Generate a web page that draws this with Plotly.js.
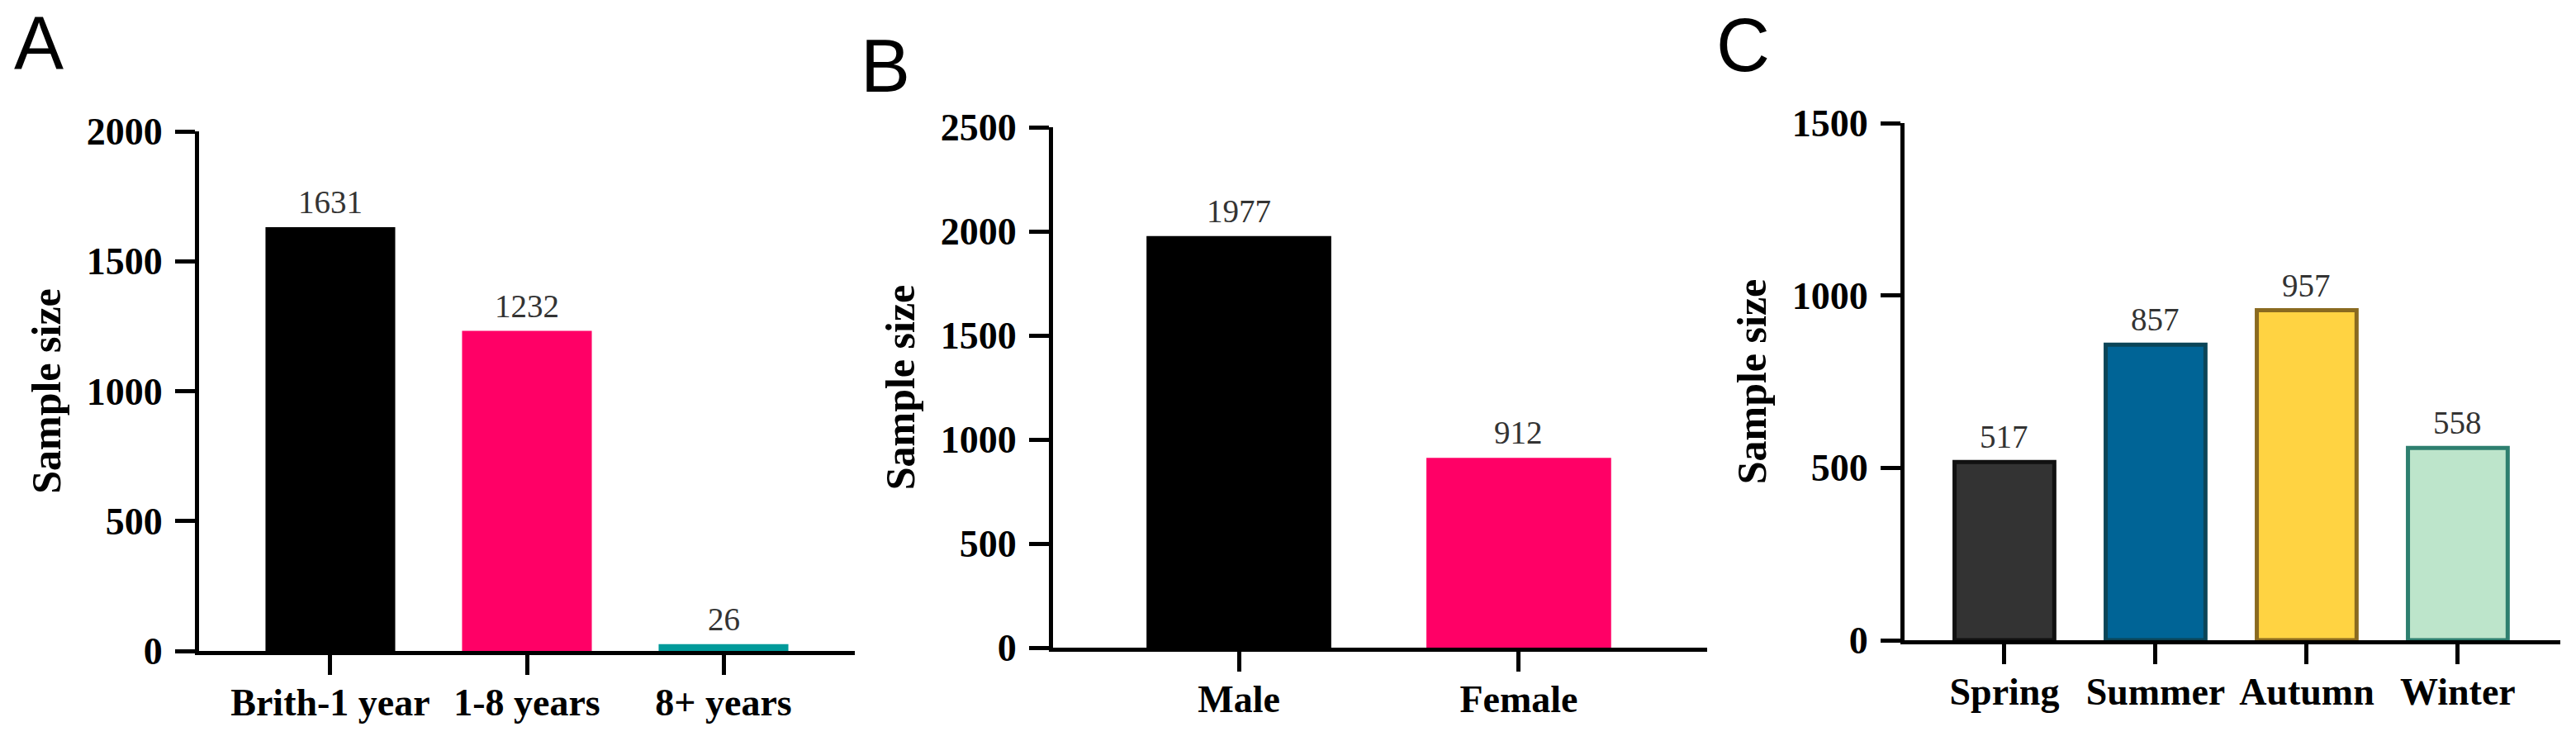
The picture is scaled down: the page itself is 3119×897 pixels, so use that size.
<!DOCTYPE html>
<html>
<head>
<meta charset="utf-8">
<script src="https://cdn.plot.ly/plotly-3.0.1.min.js"></script>
<style>html,body{margin:0;padding:0;background:#fff;}#chart{width:3119px;height:897px;}</style>
</head>
<body>
<div id="chart"></div>
<script>
// ---- data ----
const ageCategories = ["Brith-1 year", "1-8 years", "8+ years"];
const ageValues = [1631, 1232, 26];
const sexCategories = ["Male", "Female"];
const sexValues = [1977, 912];
const seasonCategories = ["Spring", "Summer", "Autumn", "Winter"];
const seasonValues = [517, 857, 957, 558];
const yTitle = "Sample size";
const panelLetters = ["A", "B", "C"];

// ---- styles ----
const ageColors = ["#000000", "#FF0066", "#009A9A"];
const sexColors = ["#000000", "#FF0066"];
const seasonColors = ["#333333", "#006496", "#FFD342", "#BDE5CB"];
const seasonEdges = ["#111111", "#0B4558", "#8A6A20", "#2E7F6F"];

const serif = "Liberation Serif, Times New Roman, serif";
const tickFont = {family: serif, size: 46, color: "#000", weight: "bold"};
const valFont = {family: serif, size: 39, color: "#333"};

function bar(x, y, xa, ya, colors, edges, lw) {
  return {
    type: "bar", x: x, y: y, xaxis: xa, yaxis: ya, width: 0.66,
    marker: {color: colors, line: {color: edges || colors, width: lw || 0}},
    hoverinfo: "x+y", showlegend: false
  };
}
function valueLabels(x, y, xa, ya) {
  return x.map((c, i) => ({
    x: c, y: y[i], xref: xa, yref: ya, text: String(y[i]),
    showarrow: false, yanchor: "bottom", xanchor: "center", yshift: 7, font: valFont
  }));
}

function xax(domain, range, anchor) {
  return {
    domain: domain, range: range, anchor: anchor, type: "category",
    showline: true, linewidth: 5, linecolor: "#000",
    ticks: "outside", ticklen: 24, tickwidth: 5, tickcolor: "#000",
    tickfont: tickFont, showgrid: false, zeroline: false, fixedrange: true,
    ticklabelstandoff: -6
  };
}
function yax(domain, range, dtick, anchor) {
  return {
    domain: domain, range: range, dtick: dtick, anchor: anchor,
    showline: true, linewidth: 5, linecolor: "#000",
    ticks: "outside", ticklen: 24, tickwidth: 5, tickcolor: "#000",
    tickfont: tickFont, showgrid: false, zeroline: false, fixedrange: true,
    ticklabelstandoff: 6,
    title: {text: yTitle, font: {family: serif, size: 50, color: "#000", weight: "bold"}, standoff: 17}
  };
}

const W = 3119, H = 897;
const px = v => v / W, py = v => 1 - v / H;

const data = [
  bar(ageCategories, ageValues, "x", "y", ageColors),
  bar(sexCategories, sexValues, "x2", "y2", sexColors),
  bar(seasonCategories, seasonValues, "x3", "y3", seasonColors, seasonEdges, 5)
];

const letterFont = {family: "Liberation Sans, Arial, sans-serif", size: 90, color: "#000"};
function letter(t, xc, shift) {
  return {text: t, x: px(xc), y: 1, xref: "paper", yref: "paper", showarrow: false,
          font: letterFont, xanchor: "center", yanchor: "top", yshift: shift};
}

const layout = {
  width: W, height: H, margin: {l: 0, r: 0, t: 0, b: 0},
  paper_bgcolor: "#fff", plot_bgcolor: "#fff",
  xaxis: xax([px(241), px(1035)], [-0.668, 2.668], "y"),
  yaxis: yax([py(788), py(159)], [0, 2000], 500, "x"),
  xaxis2: xax([px(1275), px(2067)], [-0.664, 1.673], "y2"),
  yaxis2: yax([py(784), py(154)], [0, 2500], 500, "x2"),
  xaxis3: xax([px(2306), px(3100)], [-0.661, 3.678], "y3"),
  yaxis3: yax([py(775), py(149)], [0, 1500], 500, "x3"),
  annotations: [
    letter(panelLetters[0], 47, 0),
    letter(panelLetters[1], 1072, -28),
    letter(panelLetters[2], 2110, -3)
  ].concat(
    valueLabels(ageCategories, ageValues, "x", "y"),
    valueLabels(sexCategories, sexValues, "x2", "y2"),
    valueLabels(seasonCategories, seasonValues, "x3", "y3")
  )
};

Plotly.newPlot("chart", data, layout, {staticPlot: true, displayModeBar: false});
</script>
</body>
</html>
